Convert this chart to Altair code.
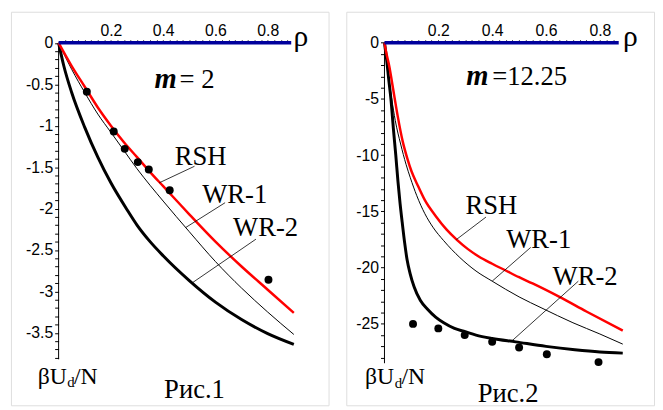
import altair as alt
import pandas as pd
import numpy as np

# ---------------- Panel 1 (m = 2) ----------------
p1_rsh_x = [0, 0.05, 0.1, 0.15, 0.2, 0.25, 0.3, 0.35, 0.4, 0.45, 0.5, 0.6, 0.7, 0.8, 0.9]
p1_rsh_y = [0, -0.28, -0.53, -0.78, -1.0, -1.2, -1.38, -1.56, -1.73, -1.9, -2.07, -2.4, -2.7, -2.98, -3.26]
p1_wr1_x = [0, 0.05, 0.1, 0.15, 0.2, 0.25, 0.3, 0.35, 0.4, 0.5, 0.6, 0.7, 0.8, 0.9]
p1_wr1_y = [0, -0.32, -0.6, -0.86, -1.08, -1.3, -1.52, -1.72, -1.91, -2.28, -2.64, -2.96, -3.25, -3.52]
p1_wr2_x = [0, 0.02, 0.05, 0.1, 0.15, 0.2, 0.265, 0.3, 0.35, 0.4, 0.5, 0.6, 0.7, 0.8, 0.9]
p1_wr2_y = [0, -0.28, -0.6, -1.02, -1.38, -1.69, -2.03, -2.2, -2.4, -2.57, -2.87, -3.13, -3.34, -3.51, -3.64]
p1_dots_x = [0.108, 0.211, 0.253, 0.303, 0.345, 0.425, 0.803]
p1_dots_y = [-0.59, -1.07, -1.28, -1.44, -1.53, -1.78, -2.86]

# ---------------- Panel 2 (m = 12.25) ----------------
p2_rsh_x = [0, 0.006, 0.018, 0.03, 0.049, 0.067, 0.085, 0.1, 0.122, 0.15, 0.19, 0.23, 0.27, 0.31, 0.35, 0.4, 0.45, 0.5, 0.55, 0.65, 0.75, 0.885]
p2_rsh_y = [0, -0.8, -2.1, -3.8, -6.5, -8.7, -10.3, -11.4, -12.6, -14.0, -15.4, -16.6, -17.55, -18.35, -19.0, -19.65, -20.25, -20.85, -21.4, -22.6, -23.9, -25.6]
p2_wr1_x = [0, 0.008, 0.016, 0.027, 0.04, 0.06, 0.08, 0.096, 0.12, 0.15, 0.18, 0.22, 0.28, 0.34, 0.4, 0.5, 0.585, 0.7, 0.8, 0.885]
p2_wr1_y = [0, -1.6, -3.2, -5.0, -6.9, -9.0, -10.8, -12.0, -13.6, -15.2, -16.4, -17.6, -19.1, -20.3, -21.2, -22.6, -23.6, -24.9, -25.9, -26.8]
p2_wr2_x = [0, 0.008, 0.016, 0.024, 0.033, 0.042, 0.05, 0.058, 0.066, 0.075, 0.084, 0.095, 0.11, 0.133, 0.16, 0.19, 0.22, 0.26, 0.3, 0.34, 0.4, 0.487, 0.6, 0.707, 0.8, 0.885]
p2_wr2_y = [0, -1.5, -3.3, -5.0, -7.6, -10.0, -12.3, -14.3, -16.0, -17.8, -19.3, -20.5, -21.7, -22.9, -23.7, -24.4, -24.9, -25.4, -25.7, -26.0, -26.3, -26.6, -27.0, -27.3, -27.5, -27.6]
p2_dots_x = [0.106, 0.2, 0.298, 0.40, 0.50, 0.603, 0.795]
p2_dots_y = [-25.0, -25.4, -26.0, -26.6, -27.1, -27.7, -28.4]

SERIF = "Liberation Serif"
SANS = "Liberation Sans"


def df(xs, ys):
    return pd.DataFrame({"x": xs, "y": ys})


def txt(x, y, t, size, align="left", **kw):
    return (pd.DataFrame({"x": [x], "y": [y], "t": [t]}),
            dict(font=SERIF, fontSize=size, color="black", align=align, baseline="alphabetic", **kw))


def panel(cfg):
    xs = alt.Scale(domain=cfg["xdom"], nice=False, zero=False)
    ys = alt.Scale(domain=cfg["ydom"], nice=False, zero=False)
    X = alt.X("x:Q", scale=xs, axis=alt.Axis(
        orient="top", values=cfg["xticks"], labelExpr=cfg["xlab"], offset=cfg["xoff"],
        domain=False, grid=False, tickSize=3, tickColor="black", labelColor="black",
        labelFont=SANS, labelFontSize=16, labelPadding=1, labelOverlap=False,
        labelFlush=False, title=None))
    Y = alt.Y("y:Q", scale=ys, axis=alt.Axis(
        orient="left", values=cfg["yticks"], labelExpr=cfg["ylab"], offset=cfg["yoff"],
        domain=False, grid=False, tickSize=4, tickColor="black", labelColor="black",
        labelFont=SANS, labelFontSize=16, labelPadding=2, labelOverlap=False,
        labelFlush=False, title=None))
    X2 = alt.X2("x2:Q")
    Y2 = alt.Y2("y2:Q")

    layers = []
    xline = pd.DataFrame({"x": [0], "x2": [cfg["xend"]], "y": [0], "y2": [0]})
    yline = pd.DataFrame({"x": [0], "x2": [0], "y": [0], "y2": [cfg["yend"]]})
    layers.append(alt.Chart(yline).mark_rule(color="black", strokeWidth=1).encode(x=X, y=Y, x2=X2, y2=Y2))
    layers.append(alt.Chart(df(*cfg["wr1"])).mark_line(color="black", strokeWidth=1, interpolate="monotone", clip=False).encode(x=X, y=Y))
    layers.append(alt.Chart(df(*cfg["wr2"])).mark_line(color="black", strokeWidth=3, interpolate="monotone", clip=False).encode(x=X, y=Y))
    layers.append(alt.Chart(df(*cfg["rsh"])).mark_line(color="#ff0000", strokeWidth=2.5, interpolate="monotone", clip=False).encode(x=X, y=Y))
    layers.append(alt.Chart(xline).mark_rule(color="#00009c", strokeWidth=3.5).encode(x=X, y=Y, x2=X2, y2=Y2))
    layers.append(alt.Chart(df(*cfg["dots"])).mark_circle(color="black", opacity=1, size=65).encode(x=X, y=Y))
    lead = pd.DataFrame(cfg["leaders"], columns=["x", "y", "x2", "y2"])
    layers.append(alt.Chart(lead).mark_rule(color="black", strokeWidth=0.8).encode(x=X, y=Y, x2=X2, y2=Y2))
    lab = pd.DataFrame(cfg["labels"], columns=["x", "y", "t"])
    layers.append(alt.Chart(lab).mark_text(font=SERIF, fontSize=27, color="black", align="center", baseline="alphabetic").encode(x=X, y=Y, text="t:N"))

    mx, eqx, my, eqtext = cfg["mlab"]
    b = cfg["beta"]
    c = cfg["cap"]
    rx, ry = cfg["rho"]
    items = [
        txt(mx, my, "m", 29, "right", fontStyle="italic", fontWeight="bold"),
        txt(eqx, my, eqtext, 27),
        txt(rx, ry, "ρ", 30, "center"),
        txt(b[0], b[1], "βU", 24),
        txt(b[2], b[3], "d", 15),
        txt(b[4], b[1], "/N", 24),
        txt(c[0], c[1], c[2], 27, "center"),
    ]
    for d, kw in items:
        layers.append(alt.Chart(d).mark_text(**kw).encode(x=X, y=Y, text="t:N"))

    return alt.layer(*layers).properties(width=cfg["w"], height=cfg["h"])


x_minor = [round(0.025 * i, 3) for i in range(1, 36)]
p1 = dict(
    xdom=[-0.1823, 1.0328], ydom=[-4.375, 0.375], w=322, h=399,
    xoff=-31.5, yoff=-48.3, xend=0.89, yend=-3.82,
    xticks=x_minor,
    xlab="abs(datum.value*5 - round(datum.value*5)) < 0.001 ? format(datum.value, '.1f') : ''",
    yticks=[round(-0.1 * i, 2) for i in range(0, 39)],
    ylab="abs(datum.value*2 - round(datum.value*2)) < 0.001 ? (datum.value < -0.001 ? '-' : '') + format(abs(datum.value), '.1~f') : ''",
    rsh=(p1_rsh_x, p1_rsh_y), wr1=(p1_wr1_x, p1_wr1_y), wr2=(p1_wr2_x, p1_wr2_y),
    dots=(p1_dots_x, p1_dots_y),
    leaders=[[0.385, -1.69, 0.52, -1.49], [0.486, -2.23, 0.637, -1.93], [0.51, -2.90, 0.755, -2.37]],
    labels=[[0.543, -1.47, "RSH"], [0.674, -1.935, "WR-1"], [0.792, -2.327, "WR-2"]],
    mlab=(0.452, 0.463, -0.542, "= 2"),
    rho=(0.927, -0.04),
    beta=(-0.080, -4.113, 0.033, -4.149, 0.059),
    cap=(0.52, -4.29, "Рис.1"),
)
p2 = dict(
    xdom=[-0.1418, 1.0011], ydom=[-32.24, 2.763], w=312, h=399,
    xoff=-31.5, yoff=-38.7, xend=0.87, yend=-28.5,
    xticks=[v for v in x_minor if v <= 0.85],
    xlab="abs(datum.value*5 - round(datum.value*5)) < 0.001 ? format(datum.value, '.1f') : ''",
    yticks=[float(-i) for i in range(0, 29)],
    ylab="abs(datum.value/5 - round(datum.value/5)) < 0.001 ? (datum.value < -0.001 ? '-' : '') + format(abs(datum.value), 'd') : ''",
    rsh=(p2_rsh_x, p2_rsh_y), wr1=(p2_wr1_x, p2_wr1_y), wr2=(p2_wr2_x, p2_wr2_y),
    dots=(p2_dots_x, p2_dots_y),
    leaders=[[0.267, -17.5, 0.377, -15.5], [0.40, -21.2, 0.543, -18.2], [0.474, -26.5, 0.72, -21.2]],
    labels=[[0.397, -15.22, "RSH"], [0.573, -18.29, "WR-1"], [0.745, -21.54, "WR-2"]],
    mlab=(0.386, 0.400, -3.73, "=12.25"),
    rho=(0.913, -0.31),
    beta=(-0.072, -30.39, 0.038, -30.66, 0.063),
    cap=(0.459, -31.97, "Рис.2"),
)

chart = alt.hconcat(panel(p1), panel(p2), spacing=16).properties(
    padding={"left": 2, "top": 0, "right": 0, "bottom": 0}
).configure_view(stroke="#555555", strokeWidth=1.2, fill="white").configure(background="white")

chart.save("out.html", embed_options={"renderer": "svg", "actions": False})
